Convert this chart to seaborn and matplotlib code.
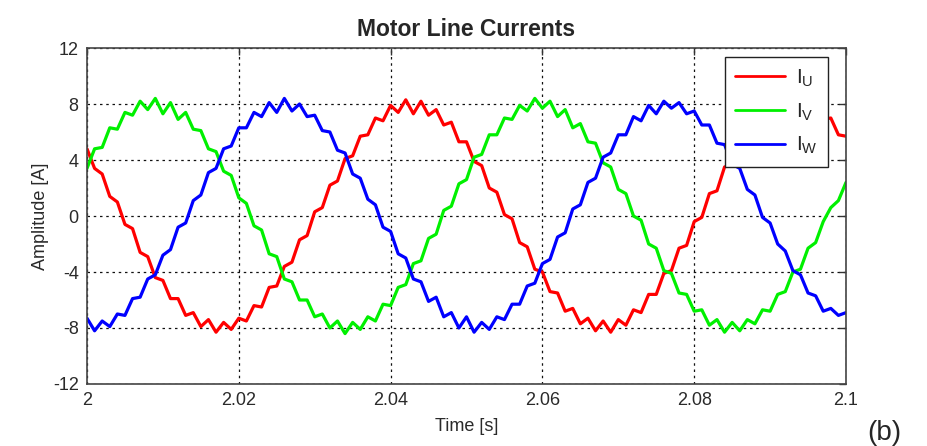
import numpy as np
import pandas as pd
import matplotlib
matplotlib.use("Agg")
import matplotlib.pyplot as plt
import seaborn as sns

# sample times, 1 ms apart (2.000 s ... 2.100 s)
time_s = np.linspace(2.0, 2.1, 101)

# phase currents [A]
i_u = [4.8, 3.4, 3.0, 1.4, 1.0, -0.6, -0.9, -2.6, -2.9, -4.4,
       -4.6, -5.9, -5.9, -7.1, -6.9, -7.9, -7.4, -8.3, -7.6, -8.1,
       -7.3, -7.5, -6.4, -6.5, -5.1, -5.0, -3.6, -3.3, -1.7, -1.4,
       0.3, 0.6, 2.2, 2.5, 4.1, 4.3, 5.7, 5.8, 7.0, 6.8,
       7.9, 7.4, 8.3, 7.3, 8.2, 7.2, 7.6, 6.5, 6.7, 5.3,
       5.3, 3.9, 3.6, 2.0, 1.7, 0.1, -0.2, -1.9, -2.2, -3.8,
       -4.0, -5.4, -5.5, -6.8, -6.6, -7.7, -7.3, -8.2, -7.5, -8.3,
       -7.4, -7.8, -6.7, -6.9, -5.6, -5.6, -4.1, -3.9, -2.3, -2.1,
       -0.4, -0.1, 1.6, 1.8, 3.5, 3.7, 5.2, 5.2, 6.6, 6.4,
       7.6, 7.2, 8.2, 7.6, 8.2, 7.4, 7.8, 6.9, 7.0, 5.8,
       5.7]

i_v = [3.4, 4.8, 4.9, 6.3, 6.2, 7.4, 7.2, 8.2, 7.6, 8.4,
       7.3, 8.1, 6.9, 7.4, 6.2, 6.1, 4.8, 4.6, 3.2, 2.9,
       1.3, 0.9, -0.7, -1.0, -2.7, -2.9, -4.5, -4.7, -6.0, -6.0,
       -7.2, -7.0, -8.0, -7.5, -8.4, -7.6, -8.1, -7.2, -7.5, -6.3,
       -6.4, -5.1, -4.9, -3.4, -3.2, -1.6, -1.3, 0.4, 0.7, 2.3,
       2.6, 4.2, 4.4, 5.8, 5.8, 7.0, 6.9, 7.9, 7.5, 8.4,
       7.7, 8.2, 7.1, 7.6, 6.3, 6.6, 5.3, 5.2, 3.8, 3.5,
       1.9, 1.6, 0.0, -0.3, -2.0, -2.3, -3.9, -4.1, -5.5, -5.6,
       -6.8, -6.7, -7.8, -7.4, -8.3, -7.6, -8.2, -7.4, -7.7, -6.7,
       -6.8, -5.6, -5.4, -4.0, -3.8, -2.3, -1.9, -0.4, 0.6, 1.1,
       2.4]

i_w = [-7.3, -8.2, -7.5, -7.9, -7.0, -7.1, -5.9, -5.8, -4.5, -4.2,
       -2.8, -2.4, -0.8, -0.5, 1.1, 1.5, 3.1, 3.4, 4.8, 5.0,
       6.3, 6.3, 7.4, 7.1, 8.1, 7.4, 8.4, 7.5, 8.0, 7.1,
       7.2, 6.1, 6.0, 4.7, 4.5, 3.0, 2.7, 1.2, 0.8, -0.8,
       -1.1, -2.7, -3.0, -4.5, -4.7, -6.1, -5.8, -7.2, -6.9, -8.0,
       -7.2, -8.3, -7.6, -8.1, -7.2, -7.4, -6.3, -6.3, -5.0, -4.8,
       -3.4, -3.1, -1.5, -1.2, 0.5, 0.8, 2.4, 2.7, 4.2, 4.5,
       5.8, 5.8, 7.1, 6.8, 7.9, 7.3, 8.2, 7.7, 8.1, 7.3,
       7.5, 6.5, 6.5, 5.2, 5.1, 3.7, 3.4, 1.9, 1.5, -0.1,
       -0.5, -2.0, -2.5, -3.9, -4.2, -5.5, -5.7, -6.8, -6.6, -7.1,
       -6.9]

phase_names = ["U", "V", "W"]
phase_colors = ["#ff0000", "#00f000", "#0000ff"]
x_ticks = [2.0, 2.02, 2.04, 2.06, 2.08, 2.1]
x_ticklabels = ["2", "2.02", "2.04", "2.06", "2.08", "2.1"]
y_ticks = [-12, -8, -4, 0, 4, 8, 12]

df = pd.DataFrame({"Time": time_s, "U": i_u, "V": i_v, "W": i_w})
long = df.melt(id_vars="Time", var_name="Phase", value_name="Amplitude")

sns.set_style("white")
plt.rcParams["font.family"] = ["Liberation Sans", "DejaVu Sans"]
plt.rcParams["axes.unicode_minus"] = False

fig = plt.figure(figsize=(9.28, 4.46), dpi=100)
ax = fig.add_axes([87 / 928, 1 - 384 / 446, 759 / 928, 336 / 446])

sns.lineplot(data=long, x="Time", y="Amplitude", hue="Phase",
             palette=phase_colors, hue_order=phase_names,
             estimator=None, sort=False, lw=2.3, legend=False, ax=ax)

ax.set_xlim(2.0, 2.1)
ax.set_ylim(-12, 12)
ax.set_xticks(x_ticks)
ax.set_xticklabels(x_ticklabels)
ax.set_yticks(y_ticks)
ax.tick_params(direction="in", length=5, width=1, top=True, right=True,
               labelsize=13, labelcolor="#2a2a2a", color="#333333", pad=6)
ax.grid(True, color="#111111", linestyle=(0, (2, 3)), linewidth=0.9)
for s in ax.spines.values():
    s.set_color("#444444")
    s.set_linewidth(1.2)

ax.set_title("Motor Line Currents", fontsize=16.5, fontweight="bold", pad=9)
ax.set_xlabel("Time [s]", fontsize=13, color="#2a2a2a", labelpad=6)
ax.set_ylabel("Amplitude [A]", fontsize=13, color="#2a2a2a", labelpad=3)

handles = [plt.Line2D([], [], color=c, lw=2) for c in phase_colors]
labels = [r"$\mathregular{I_{%s}}$" % p for p in phase_names]
leg = ax.legend(handles, labels, loc="upper right",
                bbox_to_anchor=(0.976, 0.973), borderaxespad=0,
                fontsize=15, handlelength=2.4, handletextpad=0.5,
                labelspacing=0.6, fancybox=False, framealpha=1,
                edgecolor="#222222", borderpad=0.5)
leg.get_frame().set_linewidth(1.0)

fig.text(0.953, 0.03, "(b)", fontsize=20, ha="center", va="center")

fig.savefig("out.png", dpi=100)
